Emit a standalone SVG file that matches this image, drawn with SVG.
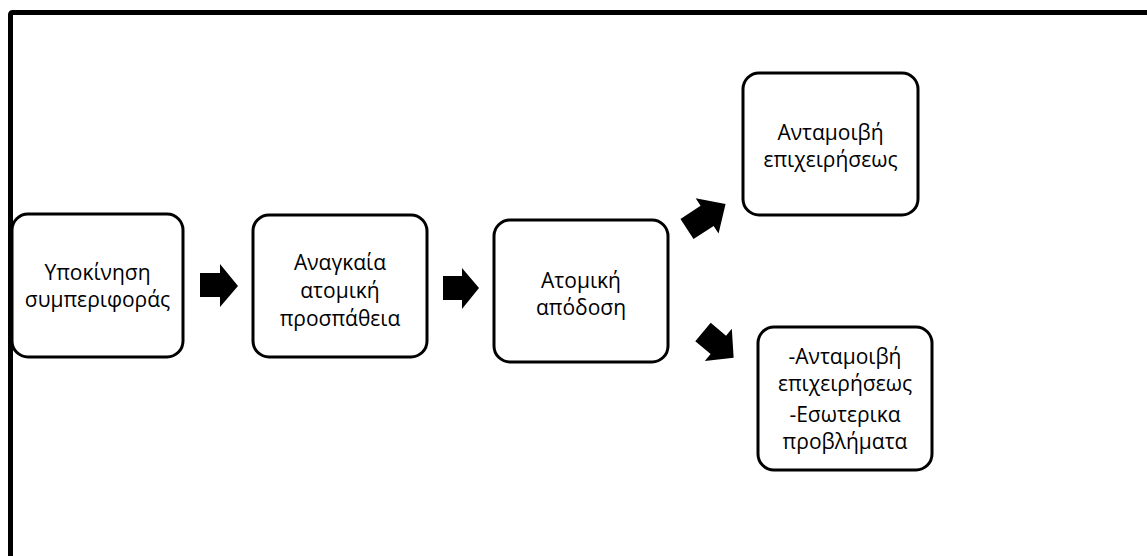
<svg xmlns="http://www.w3.org/2000/svg" width="1147" height="556" viewBox="0 0 1147 556">
<style>
.frame{fill:none;stroke:#000;stroke-width:5}
.box{fill:#fff;stroke:#000;stroke-width:3}
.t{font-family:"Open Sans","Noto Sans","Liberation Sans",sans-serif;font-size:21px;fill:#000;text-anchor:middle}
.arr{fill:#000;stroke:none}
</style>
<rect width="1147" height="556" fill="#fff"/>
<rect class="frame" x="10.5" y="12.5" width="1200" height="600" rx="2"/>
<g id="n1">
<rect class="box" x="12" y="214" width="171" height="143" rx="16"/>
<text class="t" x="97.5" y="280">Υποκίνηση</text>
<text class="t" x="97.5" y="307">συμπεριφοράς</text>
</g>
<g id="n2">
<rect class="box" x="253" y="215" width="174" height="142" rx="16"/>
<text class="t" x="340" y="270">Αναγκαία</text>
<text class="t" x="340" y="298">ατομική</text>
<text class="t" x="340" y="326">προσπάθεια</text>
</g>
<g id="n3">
<rect class="box" x="494" y="220" width="174" height="142" rx="16"/>
<text class="t" x="581" y="288">Ατομική</text>
<text class="t" x="581" y="315">απόδοση</text>
</g>
<g id="n4">
<rect class="box" x="743" y="73" width="175" height="142" rx="16"/>
<text class="t" x="830.5" y="140">Ανταμοιβή</text>
<text class="t" x="830.5" y="167">επιχειρήσεως</text>
</g>
<g id="n5">
<rect class="box" x="758" y="327" width="174" height="143" rx="16"/>
<text class="t" x="845" y="364">-Ανταμοιβή</text>
<text class="t" x="845" y="391">επιχειρήσεως</text>
<text class="t" x="845" y="422">-Εσωτερικα</text>
<text class="t" x="845" y="449">προβλήματα</text>
</g>
<g id="connectors">
<polygon class="arr" points="200,273 220,273 220,264 238,286 220,307 220,297 200,297"/>
<polygon class="arr" points="443,276 462,276 462,268 479,288 462,309 462,300 443,300"/>
<path class="arr" transform="translate(687,229) rotate(-33)" d="M0,-12 H24 V-21 L46,0 L24,21 V12 H0 Z"/>
<path class="arr" transform="translate(703,332) rotate(40)" d="M0,-12 H20 V-21 L40,0 L20,21 V12 H0 Z"/>
</g>
</svg>
